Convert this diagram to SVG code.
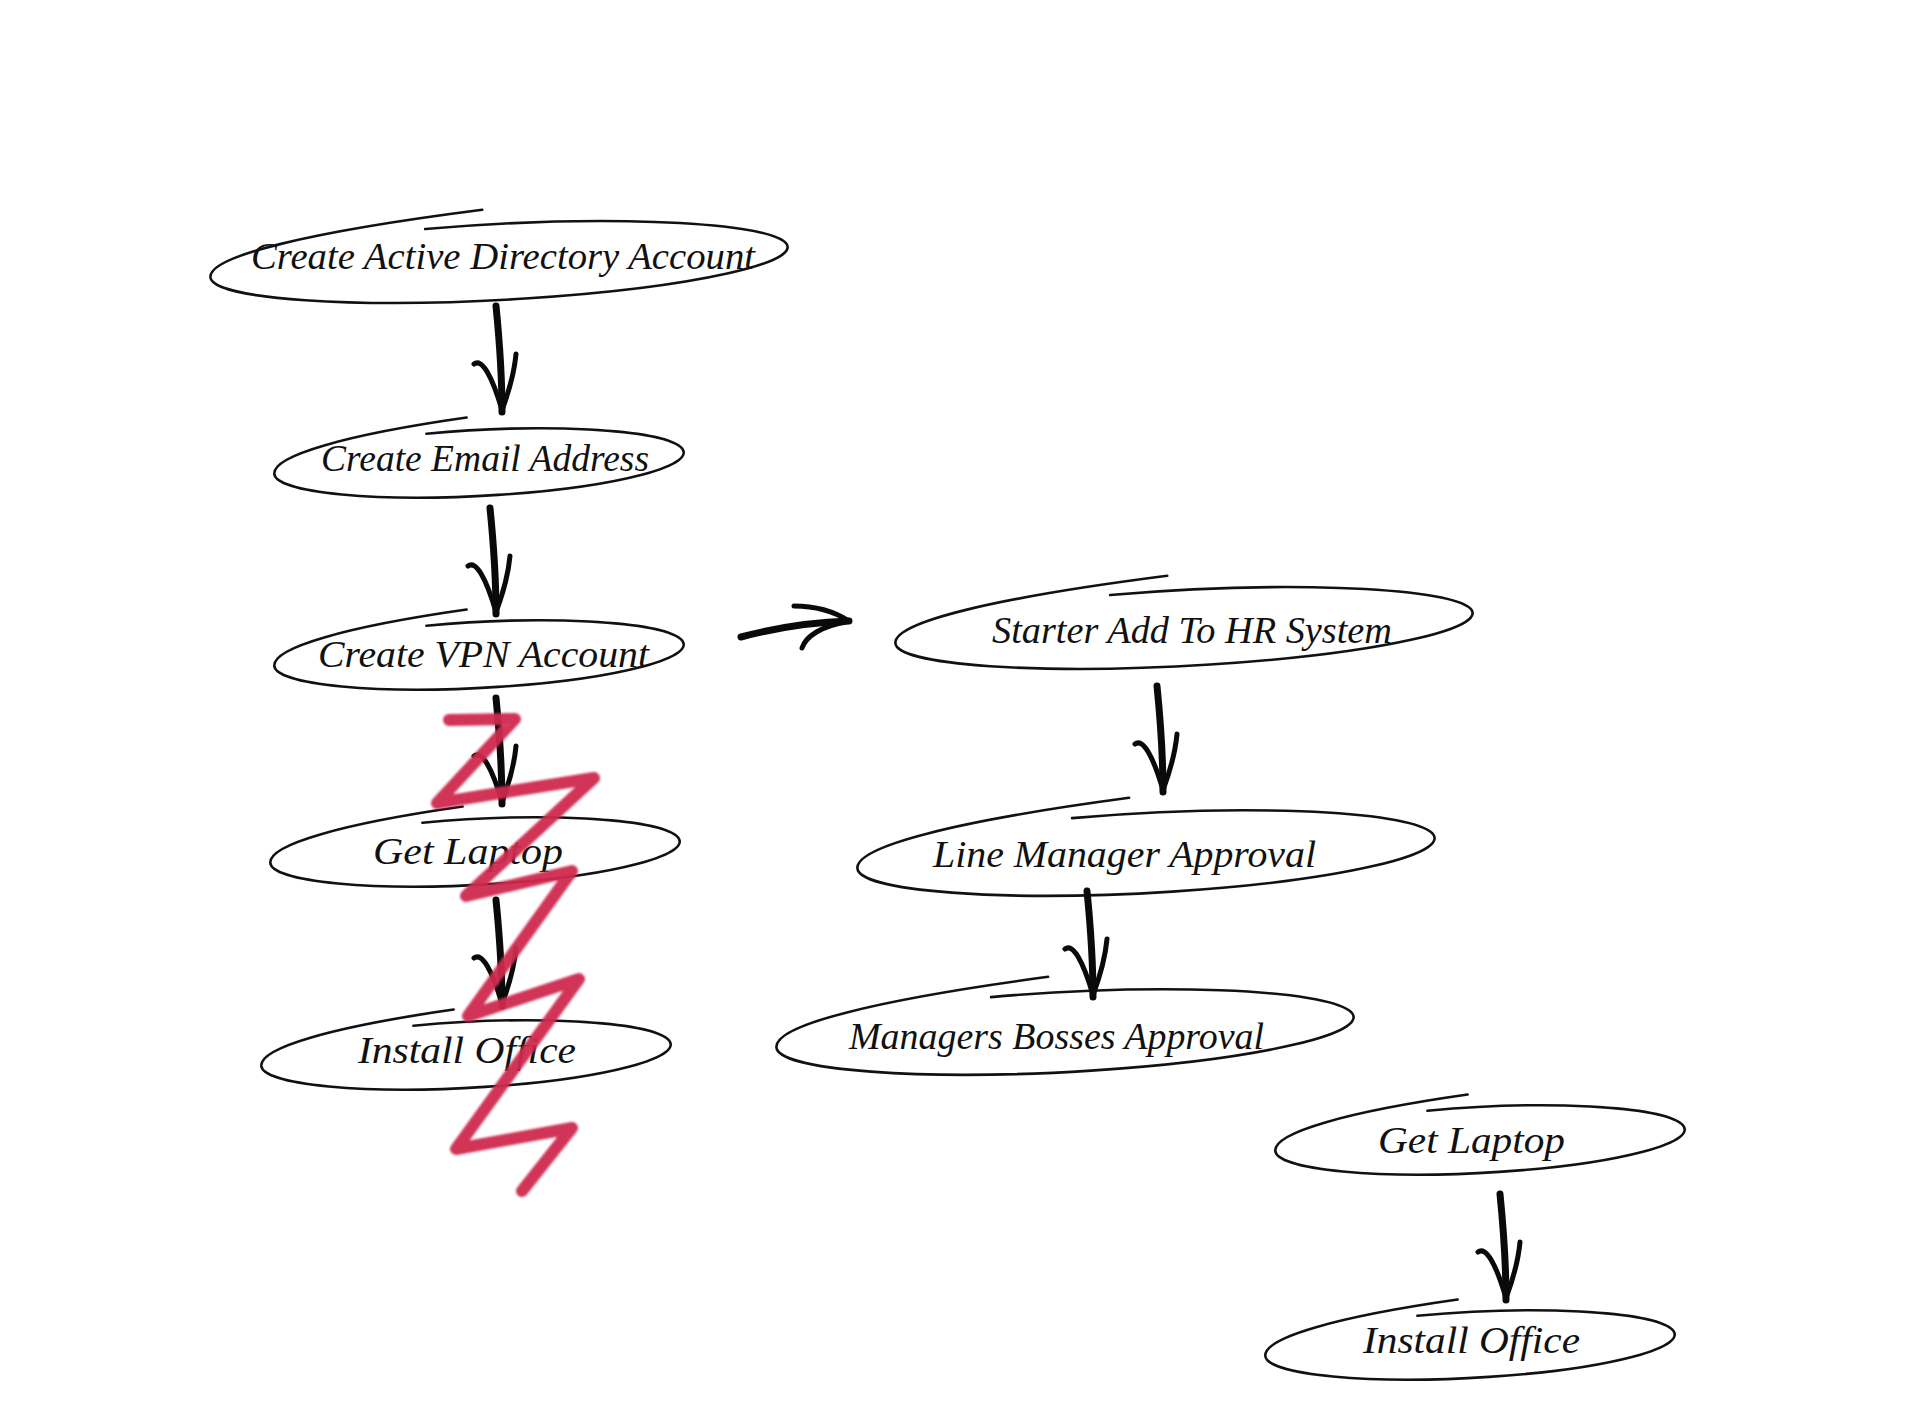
<svg xmlns="http://www.w3.org/2000/svg" xmlns:xlink="http://www.w3.org/1999/xlink" width="1920" height="1417" viewBox="0 0 1920 1417">
<style>
.outline{fill:none;stroke:#111;stroke-width:2.6;stroke-linecap:round;stroke-linejoin:round}
.lbl{font-family:"Liberation Serif","DejaVu Serif",serif;font-style:italic;font-size:38px;fill:#111}
.shaft{fill:none;stroke:#0a0a0a;stroke-width:7;stroke-linecap:round;stroke-linejoin:round}
.wing{fill:none;stroke:#0a0a0a;stroke-width:5;stroke-linecap:round;stroke-linejoin:round}
.scribble{fill:none;stroke:#cf2a4d;stroke-width:12;stroke-linecap:round;stroke-linejoin:round;opacity:0.95}
</style>
<defs>
<path id="ellL" class="outline" d="M-72,-36.8 A289,38 0 1 1 -289,0 C-289,-21 -188,-40 -14,-53"/>
<path id="ellXL" class="outline" d="M-72,-38.7 A289,40 0 1 1 -289,0 C-289,-22 -188,-42 -14,-56"/>
<path id="ellM" class="outline" d="M-51,-32 A205,33 0 1 1 -205,0 C-205,-18 -133,-35 -10,-46"/>
<g id="arrowDown">
<path class="shaft" d="M0,0 C3,30 6,70 6,106"/>
<path class="wing" d="M-22,58 C-14,52 -4,70 6,104"/>
<path class="wing" d="M20,48 C18,70 12,88 6,104"/>
</g>
<filter id="soft" x="-10%" y="-10%" width="120%" height="120%"><feGaussianBlur stdDeviation="0.8"/></filter>
</defs>
<rect width="1920" height="1417" fill="#ffffff"/>

<g id="node-create-ad">
<use xlink:href="#ellL" href="#ellL" transform="translate(499 262) rotate(-3)"/>
<text class="lbl" x="251" y="269" textLength="504" lengthAdjust="spacingAndGlyphs">Create Active Directory Account</text>
</g>
<g id="node-create-email">
<use xlink:href="#ellM" href="#ellM" transform="translate(479 463) rotate(-3)"/>
<text class="lbl" x="321" y="471" textLength="328" lengthAdjust="spacingAndGlyphs">Create Email Address</text>
</g>
<g id="node-create-vpn">
<use xlink:href="#ellM" href="#ellM" transform="translate(479 655) rotate(-3)"/>
<text class="lbl" x="318" y="667" textLength="331" lengthAdjust="spacingAndGlyphs">Create VPN Account</text>
</g>
<g id="node-get-laptop-1">
<use xlink:href="#ellM" href="#ellM" transform="translate(475 852) rotate(-3)"/>
<text class="lbl" x="373" y="864" textLength="190" lengthAdjust="spacingAndGlyphs">Get Laptop</text>
</g>
<g id="node-install-office-1">
<use xlink:href="#ellM" href="#ellM" transform="translate(466 1055) rotate(-3)"/>
<text class="lbl" x="358" y="1063" textLength="218" lengthAdjust="spacingAndGlyphs">Install Office</text>
</g>
<g id="node-starter-hr">
<use xlink:href="#ellL" href="#ellL" transform="translate(1184 628) rotate(-3)"/>
<text class="lbl" x="992" y="643" textLength="400" lengthAdjust="spacingAndGlyphs">Starter Add To HR System</text>
</g>
<g id="node-line-manager">
<use xlink:href="#ellXL" href="#ellXL" transform="translate(1146 853) rotate(-3)"/>
<text class="lbl" x="933" y="867" textLength="383" lengthAdjust="spacingAndGlyphs">Line Manager Approval</text>
</g>
<g id="node-managers-bosses">
<use xlink:href="#ellXL" href="#ellXL" transform="translate(1065 1032) rotate(-3)"/>
<text class="lbl" x="849" y="1049" textLength="415" lengthAdjust="spacingAndGlyphs">Managers Bosses Approval</text>
</g>
<g id="node-get-laptop-2">
<use xlink:href="#ellM" href="#ellM" transform="translate(1480 1140) rotate(-3)"/>
<text class="lbl" x="1378" y="1153" textLength="187" lengthAdjust="spacingAndGlyphs">Get Laptop</text>
</g>
<g id="node-install-office-2">
<use xlink:href="#ellM" href="#ellM" transform="translate(1470 1345) rotate(-3)"/>
<text class="lbl" x="1363" y="1353" textLength="217" lengthAdjust="spacingAndGlyphs">Install Office</text>
</g>

<g id="connectors">
<use xlink:href="#arrowDown" href="#arrowDown" transform="translate(496 306)"/>
<use xlink:href="#arrowDown" href="#arrowDown" transform="translate(490 508)"/>
<use xlink:href="#arrowDown" href="#arrowDown" transform="translate(496 698)"/>
<use xlink:href="#arrowDown" href="#arrowDown" transform="translate(496 900)"/>
<use xlink:href="#arrowDown" href="#arrowDown" transform="translate(1157 686)"/>
<use xlink:href="#arrowDown" href="#arrowDown" transform="translate(1087 891)"/>
<use xlink:href="#arrowDown" href="#arrowDown" transform="translate(1500 1194)"/>
<g id="arrow-right">
<path class="shaft" d="M741,637 C775,628 815,622 849,621"/>
<path class="wing" d="M794,606 C815,606 835,612 849,621"/>
<path class="wing" d="M802,648 C806,636 822,626 846,622"/>
</g>
</g>

<g id="scribble">
<path class="scribble" filter="url(#soft)" d="M449,720 L515,719 L437,803 L594,778 L466,896 L572,871 L468,1016 L579,979 L456,1149 L572,1128 L522,1191"/>
</g>
</svg>
